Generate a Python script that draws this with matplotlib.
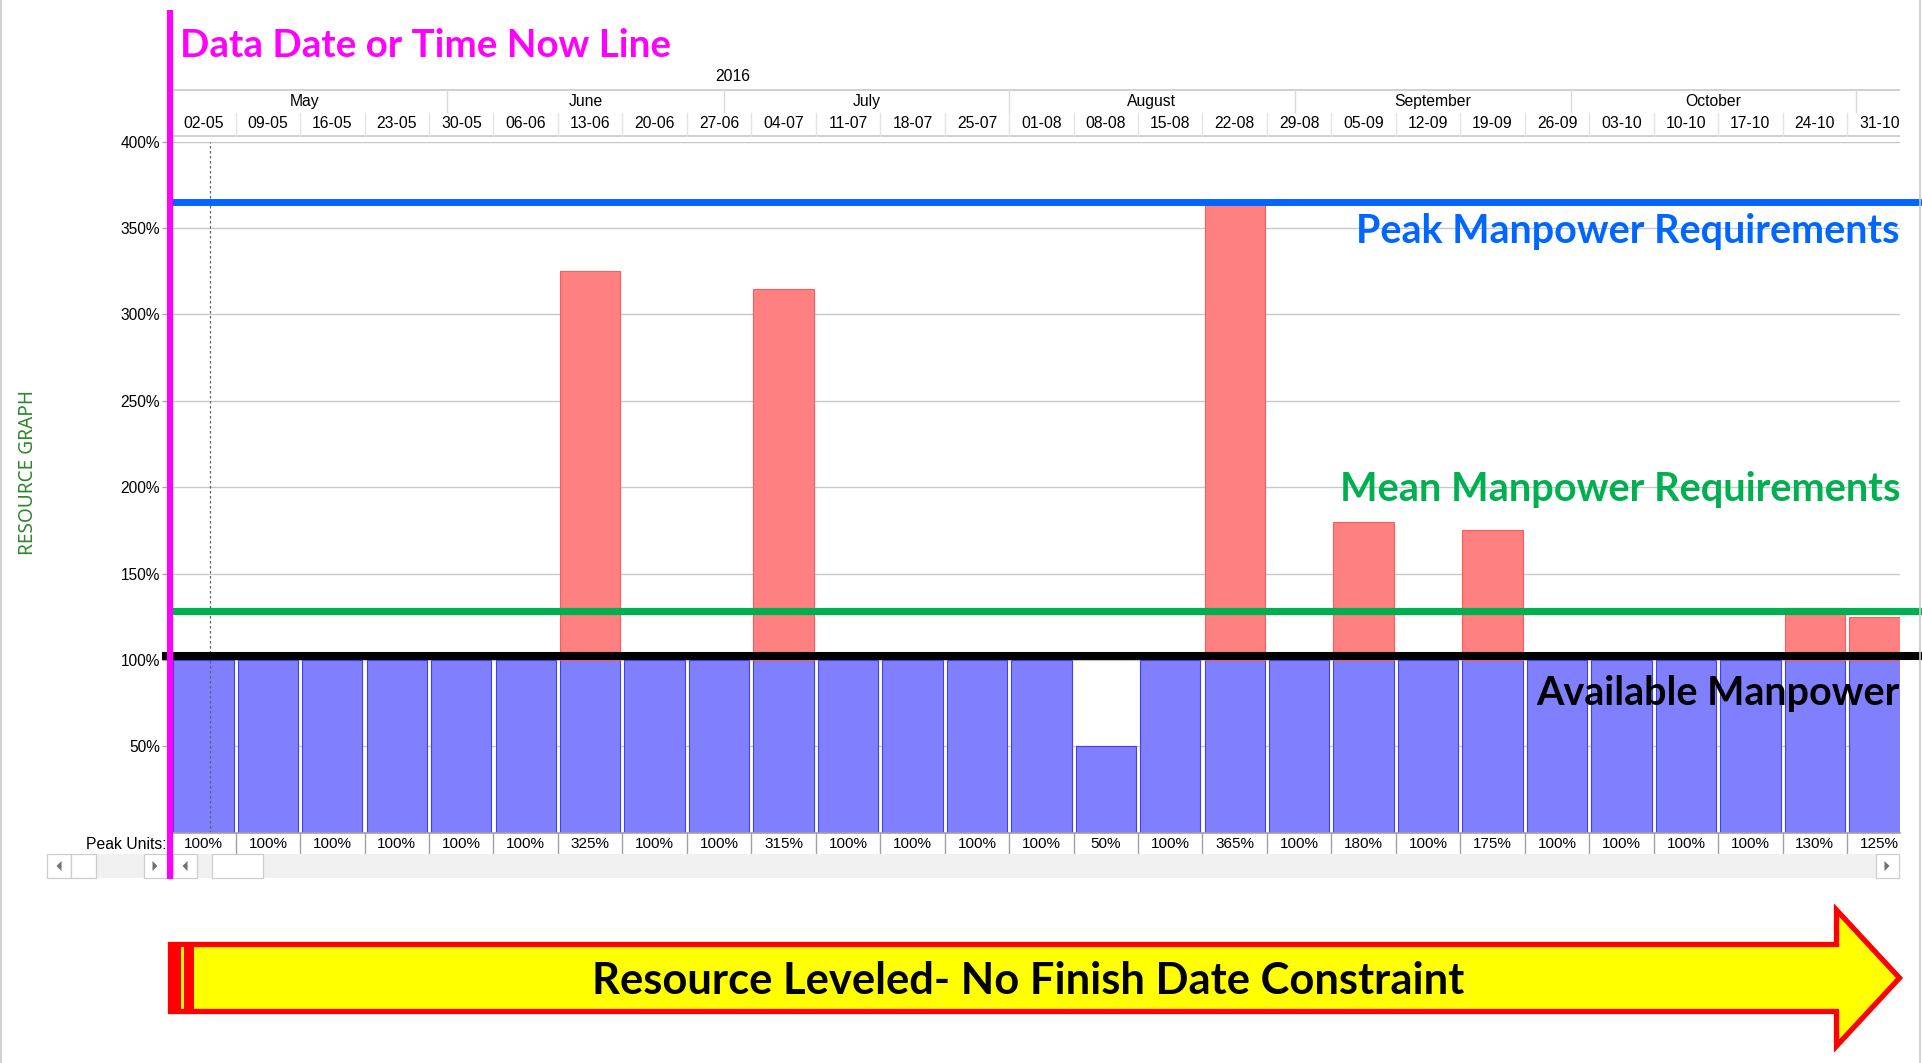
import matplotlib
matplotlib.use('Agg')
import matplotlib.pyplot as plt
from matplotlib.patches import Rectangle, Polygon
from matplotlib.lines import Line2D
import matplotlib.transforms as mtransforms
from datetime import date

# ---------------- data ----------------
year_label = '2016'
week_labels = ['02-05', '09-05', '16-05', '23-05', '30-05', '06-06', '13-06', '20-06',
               '27-06', '04-07', '11-07', '18-07', '25-07', '01-08', '08-08', '15-08',
               '22-08', '29-08', '05-09', '12-09', '19-09', '26-09', '03-10', '10-10',
               '17-10', '24-10', '31-10']
month_names = ['May', 'June', 'July', 'August', 'September', 'October']
peak_units = [100, 100, 100, 100, 100, 100, 325, 100, 100, 315, 100, 100, 100, 100,
              50, 100, 365, 100, 180, 100, 175, 100, 100, 100, 100, 130, 125]
available_units = 100
mean_units = 128.5
peak_line_units = 365
y_ticks = [50, 100, 150, 200, 250, 300, 350, 400]
data_date_offset_days = 4.25

# ---------------- layout helpers ----------------
W, H = 1922, 1063
fig = plt.figure(figsize=(W / 100, H / 100), dpi=100)
fig.patch.set_facecolor('white')


def fx(x):
    return x / W


def fy(y):
    return 1 - y / H


def frect(x0, y0, x1, y1, **kw):
    r = Rectangle((fx(x0), fy(y1)), (x1 - x0) / W, (y1 - y0) / H,
                  transform=fig.transFigure, **kw)
    fig.add_artist(r)
    return r


SMALL = 'Liberation Sans'
BIG = 'Lato'

start = date(2016, 5, 2)
month_starts = [(date(2016, m, 1) - start).days for m in range(5, 12)]
n = len(week_labels)
week_centers = [7 * i + 3.5 for i in range(n)]
XMAX = 187.75

AX_L, AX_R = 171.2, 1900.0
AX_T, AX_B = 141.6, 832.9

# ---------------- main axes ----------------
ax = fig.add_axes([fx(AX_L), fy(AX_B), (AX_R - AX_L) / W, (AX_B - AX_T) / H])
ax.set_xlim(0, XMAX)
ax.set_ylim(0, 400)
for s in ax.spines.values():
    s.set_visible(False)
ax.set_xticks([])
ax.set_yticks(y_ticks)
ax.set_yticklabels([f'{v}%' for v in y_ticks], fontfamily=SMALL, fontsize=11.2)
ax.tick_params(axis='y', length=6.5, color='#A8A8A8', pad=1.5, width=1)
ax.grid(axis='y', color='#C8C8C8', lw=1)
ax.set_axisbelow(True)

blue_h = [min(v, available_units) for v in peak_units]
ax.bar(week_centers, blue_h, width=6.55, color='#8080FF', edgecolor='#4040F0', lw=0.8, zorder=2)
over = [(c, v - available_units) for c, v in zip(week_centers, peak_units) if v > available_units]
ax.bar([c for c, _ in over], [h for _, h in over], bottom=available_units, width=6.55,
       color='#FF8080', edgecolor='#FF5A5A', lw=0.8, zorder=2)

ax.axvline(data_date_offset_days, color='#606060', lw=0.9, ls=(0, (2, 2)), zorder=3)

xmax_ext = (W - AX_L) / (AX_R - AX_L)
ax.axhline(peak_line_units, xmin=0.0, xmax=xmax_ext, color='#0066FF', lw=5.0, clip_on=False, zorder=4)
ax.axhline(mean_units, xmin=0.0, xmax=xmax_ext, color='#00B050', lw=5.2, clip_on=False, zorder=4)
up = mtransforms.offset_copy(ax.transData, fig=fig, x=0, y=4, units='dots')
ax.plot([-1.0, XMAX * xmax_ext], [available_units, available_units], color='black', lw=5.8,
        transform=up, clip_on=False, zorder=4, solid_capstyle='butt')

# ---------------- header ----------------
hax = fig.add_axes([fx(AX_L), fy(137), (AX_R - AX_L) / W, (137 - 60) / H])
hax.set_xlim(0, XMAX)
hax.set_ylim(137, 60)
hax.axis('off')
hax.plot([0, XMAX], [90, 90], color='#C8C8C8', lw=1.2)
hax.plot([0, XMAX], [136, 136], color='#C8C8C8', lw=1.2)
for m in month_starts:
    if 0 < m < XMAX:
        hax.plot([m, m], [90, 112], color='#DADADA', lw=1)
for i in range(1, n):
    if 7 * i < XMAX:
        hax.plot([7 * i, 7 * i], [113, 136], color='#E4E4E4', lw=1)
for i, name in enumerate(month_names):
    c = (month_starts[i] + month_starts[i + 1]) / 2
    hax.text(c, 101.5, name, ha='center', va='center', fontfamily=SMALL, fontsize=11.3)
for c, lab in zip(week_centers, week_labels):
    hax.text(c, 123.3, lab, ha='center', va='center', fontfamily=SMALL, fontsize=11.3)
hax.text(61, 76, year_label, ha='center', va='center', fontfamily=SMALL, fontsize=11.3)

# ---------------- peak units row ----------------
pax = fig.add_axes([fx(AX_L), fy(853.5), (AX_R - AX_L) / W, (853.5 - 833) / H])
pax.set_xlim(0, XMAX)
pax.set_ylim(0, 1)
pax.axis('off')
pax.plot([0, XMAX], [1, 1], color='#A0A0A0', lw=1.2, clip_on=False)
for i in range(1, n):
    if 7 * i < XMAX:
        pax.plot([7 * i, 7 * i], [0, 1], color='#A0A0A0', lw=1)
for c, v in zip(week_centers, peak_units):
    pax.text(c, 0.45, f'{v}%', ha='center', va='center', fontfamily=SMALL, fontsize=11)
pax.text(-0.003, 0.45, 'Peak Units:', transform=pax.transAxes, ha='right', va='center',
         fontfamily=SMALL, fontsize=11.3)

# ---------------- scrollbars ----------------
frect(47, 853.5, 167, 878, fc='#F0F0F0', ec='none')
frect(173, 853.5, 1900, 878, fc='#F0F0F0', ec='none')
for (x0, x1) in [(47, 71), (71, 96), (144, 167), (173, 197), (212, 263), (1876, 1899)]:
    frect(x0, 854, x1, 878, fc='white', ec='#CDCDCD', lw=0.9)


def tri(cx, cy, direction):
    d = 2.5 * direction
    pts = [(fx(cx + d), fy(cy)), (fx(cx - d), fy(cy - 5)), (fx(cx - d), fy(cy + 5))]
    fig.add_artist(Polygon(pts, closed=True, transform=fig.transFigure, fc='#707070', ec='none'))


tri(59, 866, -1)
tri(155, 866, 1)
tri(185, 866, -1)
tri(1887, 866, 1)

# ---------------- frame lines ----------------
fig.add_artist(Line2D([fx(1), fx(1)], [0, 1], transform=fig.transFigure, color='#C8C8C8', lw=1.2))
fig.add_artist(Line2D([fx(1920), fx(1920)], [0, 1], transform=fig.transFigure, color='#C8C8C8', lw=1.2))

# ---------------- magenta data date line ----------------
fig.add_artist(Line2D([fx(170), fx(170)], [fy(10), fy(879)], transform=fig.transFigure,
                      color='#FF00FF', lw=4.4, solid_capstyle='butt', zorder=10))

# ---------------- big arrow ----------------
arrow_pts = [(170.5, 944.5), (1836.5, 944.5), (1836.5, 910), (1899.5, 978), (1836.5, 1046),
             (1836.5, 1011.5), (170.5, 1011.5)]
fig.add_artist(Polygon([(fx(x), fy(y)) for x, y in arrow_pts], closed=True,
                       transform=fig.transFigure, fc='#FFFF00', ec='#FF0000', lw=3.8,
                       joinstyle='miter', zorder=5))
frect(168, 942, 194, 1014, fc='#FF0000', ec='none', zorder=6)
frect(181, 947, 184.4, 1009, fc='#FFFF00', ec='none', zorder=7)

# ---------------- annotation texts ----------------
texts = []
t1 = fig.text(fx(180.5), fy(56.7), 'Data Date or Time Now Line', ha='left', va='baseline',
              color='#FF00FF', fontfamily=BIG, fontweight='bold', fontsize=28, zorder=11)
texts.append((t1, 491, 'w'))
t2 = fig.text(fx(1900), fy(243.5), 'Peak Manpower Requirements', ha='right', va='baseline',
              color='#0066FF', fontfamily=BIG, fontweight='bold', fontsize=26, zorder=11)
texts.append((t2, 543, 'w'))
t3 = fig.text(fx(1900), fy(500.5), 'Mean Manpower Requirements', ha='right', va='baseline',
              color='#00B050', fontfamily=BIG, fontweight='bold', fontsize=26, zorder=11)
texts.append((t3, 563, 'w'))
t4 = fig.text(fx(1900), fy(705), 'Available Manpower', ha='right', va='baseline',
              color='black', fontfamily=BIG, fontweight='bold', fontsize=26, zorder=11)
texts.append((t4, 364, 'w'))
t5 = fig.text(fx(1028.5), fy(994), 'Resource Leveled- No Finish Date Constraint', ha='center',
              va='baseline', color='black', fontfamily=BIG, fontweight='bold', fontsize=29, zorder=11)
texts.append((t5, 873, 'w'))
t6 = fig.text(fx(28), fy(472.5), 'RESOURCE GRAPH', ha='center', va='center', rotation=90,
              color='#2E862E', fontfamily='Noto Sans', fontsize=12, zorder=11)
texts.append((t6, 165, 'h'))

renderer = fig.canvas.get_renderer()
for t, target, dim in texts:
    for _ in range(3):
        bb = t.get_window_extent(renderer)
        cur = bb.width if dim == 'w' else bb.height
        t.set_fontsize(t.get_fontsize() * target / cur)

fig.savefig('out.png', dpi=100, facecolor='white')
